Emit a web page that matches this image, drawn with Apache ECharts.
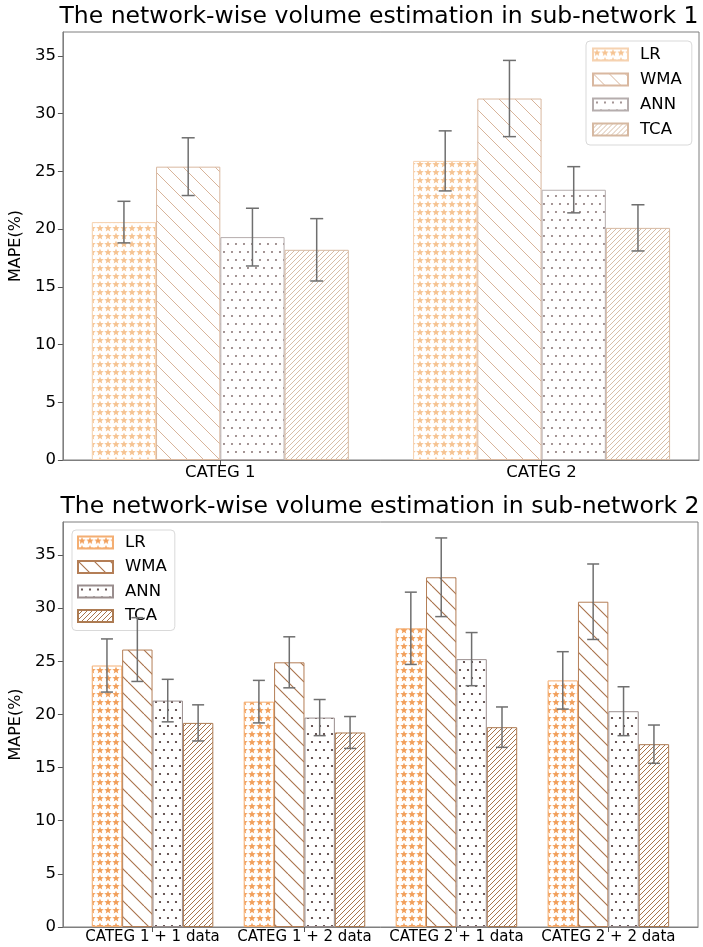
<!DOCTYPE html>
<html><head><meta charset="utf-8">
<script src="https://cdn.jsdelivr.net/npm/echarts@6/dist/echarts.min.js"></script>
<style>
html,body{margin:0;padding:0;background:#fff;}
#c1{position:absolute;left:0;top:0;width:703px;height:490px;}
#c2{position:absolute;left:0;top:490px;width:703px;height:457px;}
</style>
</head><body><div id="c1"></div><div id="c2"></div>
<script>
// ---------- data ----------
const seriesNames = ['LR', 'WMA', 'ANN', 'TCA'];
const yTickValues = [0, 5, 10, 15, 20, 25, 30, 35];

const title1 = 'The network-wise volume estimation in sub-network 1';
const categories1 = ['CATEG 1', 'CATEG 2'];
const lr1 = [20.6, 25.9];
const lr1Err = [1.8, 2.6];
const wma1 = [25.4, 31.3];
const wma1Err = [2.5, 3.3];
const ann1 = [19.3, 23.4];
const ann1Err = [2.5, 2.0];
const tca1 = [18.2, 20.1];
const tca1Err = [2.7, 2.0];

const title2 = 'The network-wise volume estimation in sub-network 2';
const categories2 = ['CATEG 1 + 1 data', 'CATEG 1 + 2 data', 'CATEG 2 + 1 data', 'CATEG 2 + 2 data'];
const lr2 = [24.6, 21.2, 28.1, 23.2];
const lr2Err = [2.5, 2.0, 3.4, 2.7];
const wma2 = [26.1, 24.9, 32.9, 30.6];
const wma2Err = [3.0, 2.4, 3.7, 3.55];
const ann2 = [21.3, 19.7, 25.2, 20.3];
const ann2Err = [2.0, 1.7, 2.5, 2.3];
const tca2 = [19.2, 18.3, 18.8, 17.2];
const tca2Err = [1.7, 1.5, 1.9, 1.8];

// ---------- patterns ----------
function tile(w, h, draw) {
  const c = document.createElement('canvas');
  c.width = w; c.height = h;
  const ctx = c.getContext('2d');
  ctx.fillStyle = '#ffffff';
  ctx.fillRect(0, 0, w, h);
  draw(ctx);
  return { image: c, repeat: 'repeat' };
}
function starPattern(color) {
  return tile(8, 8, ctx => {
    ctx.fillStyle = color;
    ctx.beginPath();
    const cx = 4, cy = 4, ro = 3.9, ri = 1.7;
    for (let i = 0; i < 10; i++) {
      const r = i % 2 === 0 ? ro : ri;
      const a = -Math.PI / 2 + i * Math.PI / 5;
      const px = cx + r * Math.cos(a), py = cy + 0.4 + r * Math.sin(a);
      if (i === 0) ctx.moveTo(px, py); else ctx.lineTo(px, py);
    }
    ctx.closePath();
    ctx.fill();
  });
}
function backPattern(color, p, lw) {
  return tile(p, p, ctx => {
    ctx.strokeStyle = color; ctx.lineWidth = lw;
    for (const x0 of [-p, 0, p]) {
      ctx.beginPath(); ctx.moveTo(x0, 0); ctx.lineTo(x0 + p, p); ctx.stroke();
    }
  });
}
function slashPattern(color, p, lw) {
  return tile(p, p, ctx => {
    ctx.strokeStyle = color; ctx.lineWidth = lw;
    for (const x0 of [-p, 0, p]) {
      ctx.beginPath(); ctx.moveTo(x0, p); ctx.lineTo(x0 + p, 0); ctx.stroke();
    }
  });
}
function dotPattern(color, r) {
  return tile(16, 16, ctx => {
    ctx.fillStyle = color;
    for (const [x, y] of [[4, 4], [12, 4], [0, 12], [8, 12], [16, 12]]) {
      ctx.beginPath(); ctx.arc(x, y, r, 0, Math.PI * 2); ctx.fill();
    }
  });
}

const styles1 = [
  { color: starPattern('#f6c493'), borderColor: '#f6d2b0' },
  { color: backPattern('#d8b49a', 16, 1), borderColor: '#d9b8a0' },
  { color: dotPattern('#8c7a7a', 1.05), borderColor: '#b5adad' },
  { color: slashPattern('#d4b59c', 5, 0.9), borderColor: '#d6b9a2' }
];
const styles2 = [
  { color: starPattern('#f2a05c'), borderColor: '#f4ae72' },
  { color: backPattern('#a87048', 16, 1.1), borderColor: '#b47e56' },
  { color: dotPattern('#45302f', 1.1), borderColor: '#9a8e8e' },
  { color: slashPattern('#a8744b', 5, 1.0), borderColor: '#ad7b52' }
];

function buildOption(cfg) {
  const barFrac = 0.2;
  const series = [];
  cfg.values.forEach((vals, s) => {
    series.push({
      type: 'bar',
      name: seriesNames[s],
      barWidth: (barFrac * 100) + '%',
      barGap: '0%',
      data: vals.map((v, i) => [i, v]),
      itemStyle: Object.assign({ borderWidth: 1 }, cfg.styles[s]),
      silent: true
    });
  });
  cfg.values.forEach((vals, s) => {
    const errs = cfg.errors[s];
    series.push({
      type: 'custom',
      name: 'err' + s,
      z: 10,
      silent: true,
      encode: { x: 0, y: [1, 2] },
      data: vals.map((v, i) => [i + (s - 1.5) * barFrac, v - errs[i], v + errs[i]]),
      renderItem: function (params, api) {
        const x = api.value(0);
        const pHi = api.coord([x, api.value(2)]);
        const pLo = api.coord([x, api.value(1)]);
        const c = cfg.cap / 2;
        const st = { stroke: '#6f6f6f', lineWidth: 1.5 };
        return {
          type: 'group', children: [
            { type: 'line', shape: { x1: pHi[0], y1: pHi[1], x2: pLo[0], y2: pLo[1] }, style: st },
            { type: 'line', shape: { x1: pHi[0] - c, y1: pHi[1], x2: pHi[0] + c, y2: pHi[1] }, style: st },
            { type: 'line', shape: { x1: pLo[0] - c, y1: pLo[1], x2: pLo[0] + c, y2: pLo[1] }, style: st }
          ]
        };
      }
    });
  });
  const catTicks = cfg.categories.map((c, i) => i);
  return {
    animation: false,
    backgroundColor: '#ffffff',
    title: {
      text: cfg.title, left: cfg.titleX, top: cfg.titleTop, textAlign: 'center', padding: 0,
      textStyle: { fontFamily: 'DejaVu Sans', fontSize: 23.5, fontWeight: 'normal', color: '#000' }
    },
    legend: Object.assign({
      orient: 'vertical',
      data: seriesNames,
      itemWidth: 35, itemHeight: 12,
      icon: 'rect',
      selectedMode: false,
      borderColor: '#d9d9d9', borderWidth: 1, borderRadius: 4,
      backgroundColor: 'rgba(255,255,255,0.85)',
      textStyle: { fontFamily: 'DejaVu Sans', fontSize: 16.5, color: '#000', lineHeight: 16, padding: [0, 0, 0, 7] }
    }, cfg.legend),
    grid: Object.assign({ show: true, borderColor: '#7f7f7f', borderWidth: 1, backgroundColor: 'transparent', containLabel: false }, cfg.grid),
    xAxis: {
      type: 'value', min: cfg.xMin, max: cfg.xMax,
      splitLine: { show: false },
      axisLine: { show: true, onZero: false, lineStyle: { color: '#7f7f7f', width: 1 } },
      axisTick: { show: true, length: 5, customValues: catTicks, lineStyle: { color: '#555' } },
      axisLabel: {
        customValues: catTicks, margin: cfg.xLabelMargin,
        formatter: v => cfg.categories[Math.round(v)],
        fontFamily: 'DejaVu Sans', fontSize: cfg.xFont, color: '#000'
      }
    },
    yAxis: {
      type: 'value', min: 0, max: cfg.yMax, interval: 5,
      name: 'MAPE(%)', nameLocation: 'middle', nameGap: cfg.nameGap, nameRotate: 90,
      nameTextStyle: { fontFamily: 'DejaVu Sans', fontSize: 16, color: '#000' },
      splitLine: { show: false },
      axisLine: { show: true, onZero: false, lineStyle: { color: '#7f7f7f', width: 1 } },
      axisTick: { show: true, length: 5, customValues: yTickValues, lineStyle: { color: '#555' } },
      axisLabel: { customValues: yTickValues, margin: 7, fontFamily: 'DejaVu Sans', fontSize: 16.5, color: '#000' }
    },
    series: series
  };
}

const chart1 = echarts.init(document.getElementById('c1'), null, { renderer: 'canvas' });
chart1.setOption(buildOption({
  title: title1, titleX: 379, titleTop: 5,
  categories: categories1,
  values: [lr1, wma1, ann1, tca1],
  errors: [lr1Err, wma1Err, ann1Err, tca1Err],
  styles: styles1,
  grid: { left: 60, right: 4, top: 32, bottom: 30 },
  xMin: -0.49, xMax: 1.49, yMax: 37.06,
  xFont: 16.5, xLabelMargin: 4, nameGap: 34, cap: 13,
  legend: { left: 586, top: 41, itemGap: 8, padding: [5, 10, 7, 6] }
}));

const chart2 = echarts.init(document.getElementById('c2'), null, { renderer: 'canvas' });
chart2.setOption(buildOption({
  title: title2, titleX: 380, titleTop: 5,
  categories: categories2,
  values: [lr2, wma2, ann2, tca2],
  errors: [lr2Err, wma2Err, ann2Err, tca2Err],
  styles: styles2,
  grid: { left: 62, right: 5, top: 32, bottom: 20 },
  xMin: -0.59, xMax: 3.59, yMax: 38.1,
  xFont: 15, xLabelMargin: 3, nameGap: 35, cap: 12,
  legend: { left: 72, top: 40, itemGap: 7.5, padding: [4, 8, 6, 5] }
}));
</script>
</body></html>
